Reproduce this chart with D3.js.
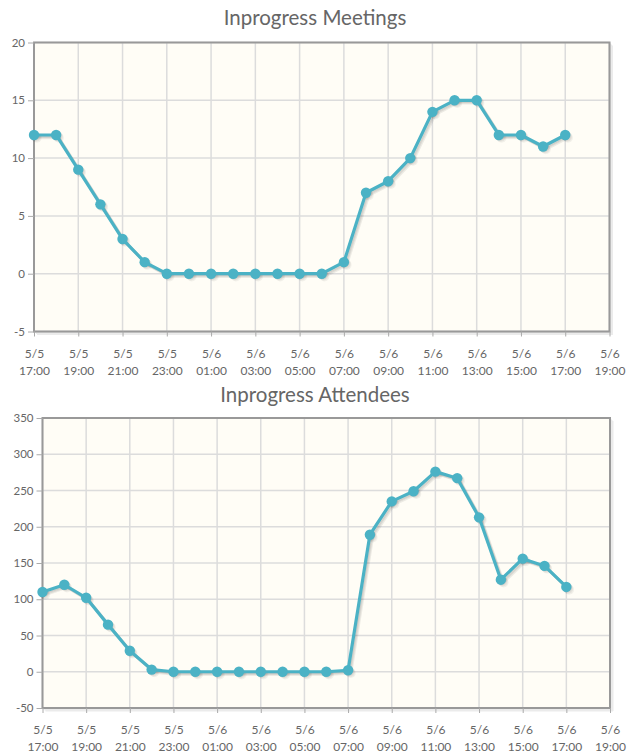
<!DOCTYPE html>
<html>
<head>
<meta charset="utf-8">
<script src="https://cdn.jsdelivr.net/npm/d3@7"></script>
<style>
  body { margin: 0; background: #fff; }
  svg text { font-family: Lato, "Noto Sans", sans-serif; }
</style>
</head>
<body>
<div id="chart"></div>
<script>
// データ------------------------------------------------------------------------------
const times = [
  "05-05 17:00", "05-05 18:00", "05-05 19:00", "05-05 20:00", "05-05 21:00",
  "05-05 22:00", "05-05 23:00", "05-06 00:00", "05-06 01:00", "05-06 02:00",
  "05-06 03:00", "05-06 04:00", "05-06 05:00", "05-06 06:00", "05-06 07:00",
  "05-06 08:00", "05-06 09:00", "05-06 10:00", "05-06 11:00", "05-06 12:00",
  "05-06 13:00", "05-06 14:00", "05-06 15:00", "05-06 16:00", "05-06 17:00"
];
const meetings = [12, 12, 9, 6, 3, 1, 0, 0, 0, 0, 0, 0, 0, 0, 1, 7, 8, 10, 14, 15, 15, 12, 12, 11, 12];
const attendees = [110, 120, 102, 65, 29, 3, 0, 0, 0, 0, 0, 0, 0, 0, 2, 189, 235, 249, 276, 267, 213, 127, 156, 146, 117];
const xRange = ["05-05 17:00", "05-06 19:00"];
const meetingTicks = [20, 15, 10, 5, 0, -5];
const attendeeTicks = [350, 300, 250, 200, 150, 100, 50, 0, -50];

const parse = d3.timeParse("%m-%d %H:%M");
const width = 627, height = 756;
const lineColor = "#4bb2c5";

const svg = d3.select("#chart").append("svg")
  .attr("width", width)
  .attr("height", height);

// チャート作成ファンクション-----------------------------------------------------------
const chartCreate = (title, values, yTicks, top, box) => {
  const g = svg.append("g");
  const x = d3.scaleTime()
    .domain(xRange.map(parse))
    .range([box.left, box.right]);
  const y = d3.scaleLinear()
    .domain([d3.min(yTicks), d3.max(yTicks)])
    .range([box.bottom, box.top]);
  // 2時間おき(奇数時)の目盛り
  const xTicks = d3.timeHour.range(x.domain()[0], d3.timeMinute.offset(x.domain()[1], 1), 2);

  // タイトル
  g.append("text")
    .attr("x", 315)
    .attr("y", top)
    .attr("text-anchor", "middle")
    .attr("font-size", "20.5px")
    .attr("fill", "#666")
    .text(title);

  // 背景
  g.append("rect")
    .attr("x", box.left).attr("y", box.top)
    .attr("width", box.right - box.left).attr("height", box.bottom - box.top)
    .attr("fill", "#fffdf6");

  // グリッド
  g.selectAll(".hgrid").data(yTicks).enter().append("line")
    .attr("x1", box.left).attr("x2", box.right)
    .attr("y1", d => y(d)).attr("y2", d => y(d))
    .attr("stroke", "#dcdcdc").attr("stroke-width", 1.5);
  g.selectAll(".vgrid").data(xTicks).enter().append("line")
    .attr("y1", box.top).attr("y2", box.bottom)
    .attr("x1", d => x(d)).attr("x2", d => x(d))
    .attr("stroke", "#dcdcdc").attr("stroke-width", 1.5);

  // 枠と影
  for (let i = 1; i <= 3; i++) {
    g.append("path")
      .attr("d", `M${box.right + i},${box.top + i}V${box.bottom + i}H${box.left + i}`)
      .attr("fill", "none")
      .attr("stroke", "rgba(0,0,0,0.08)")
      .attr("stroke-width", 1);
  }
  g.append("rect")
    .attr("x", box.left).attr("y", box.top)
    .attr("width", box.right - box.left).attr("height", box.bottom - box.top)
    .attr("fill", "none")
    .attr("stroke", "#999")
    .attr("stroke-width", 2);

  // y軸
  const yAxis = g.append("g")
    .attr("transform", `translate(${box.left},0)`)
    .call(d3.axisLeft(y).tickValues(yTicks).tickSize(6).tickPadding(3).tickFormat(d => String(d)));
  yAxis.select(".domain").remove();
  yAxis.selectAll(".tick line").attr("stroke", "#aaa");
  yAxis.selectAll("text").attr("fill", "#666").attr("font-size", "11.5px").attr("font-family", "Lato, sans-serif");

  // x軸
  const xAxis = g.append("g")
    .attr("transform", `translate(0,${box.bottom})`)
    .call(d3.axisBottom(x).tickValues(xTicks).tickSize(5).tickFormat(""));
  xAxis.select(".domain").remove();
  xAxis.selectAll(".tick line").attr("stroke", "#aaa");
  const lbl = xAxis.selectAll(".tick").append("text")
    .attr("fill", "#666")
    .attr("font-size", "12px")
    .attr("font-family", "Lato, sans-serif")
    .attr("text-anchor", "middle");
  lbl.append("tspan").attr("x", 0).attr("y", 26).text(d => d3.timeFormat("%-m/%-d")(d));
  lbl.append("tspan").attr("x", 0).attr("y", 43).text(d => d3.timeFormat("%H:%M")(d));

  // 折れ線
  const data = times.map((t, i) => ({ t: parse(t), v: values[i] }));
  const line = d3.line().x(d => x(d.t)).y(d => y(d.v));
  for (let i = 1; i <= 3; i++) {
    g.append("path")
      .datum(data)
      .attr("d", line)
      .attr("transform", `translate(${i * 0.9},${i * 0.9})`)
      .attr("fill", "none")
      .attr("stroke", "rgba(0,0,0,0.07)")
      .attr("stroke-width", 3);
    g.selectAll(null).data(data).enter().append("circle")
      .attr("cx", d => x(d.t) + i * 0.9)
      .attr("cy", d => y(d.v) + i * 0.9)
      .attr("r", 5)
      .attr("fill", "rgba(0,0,0,0.05)");
  }
  g.append("path")
    .datum(data)
    .attr("d", line)
    .attr("fill", "none")
    .attr("stroke", lineColor)
    .attr("stroke-width", 3.2)
    .attr("stroke-linejoin", "round");
  g.selectAll(".pt").data(data).enter().append("circle")
    .attr("cx", d => x(d.t))
    .attr("cy", d => y(d.v))
    .attr("r", 5.2)
    .attr("fill", lineColor);
};

chartCreate("Inprogress Meetings", meetings, meetingTicks, 25,
  { left: 34, right: 609.5, top: 42.5, bottom: 331.5 });
chartCreate("Inprogress Attendees", attendees, attendeeTicks, 402,
  { left: 42.5, right: 610, top: 418, bottom: 708 });
</script>
</body>
</html>
